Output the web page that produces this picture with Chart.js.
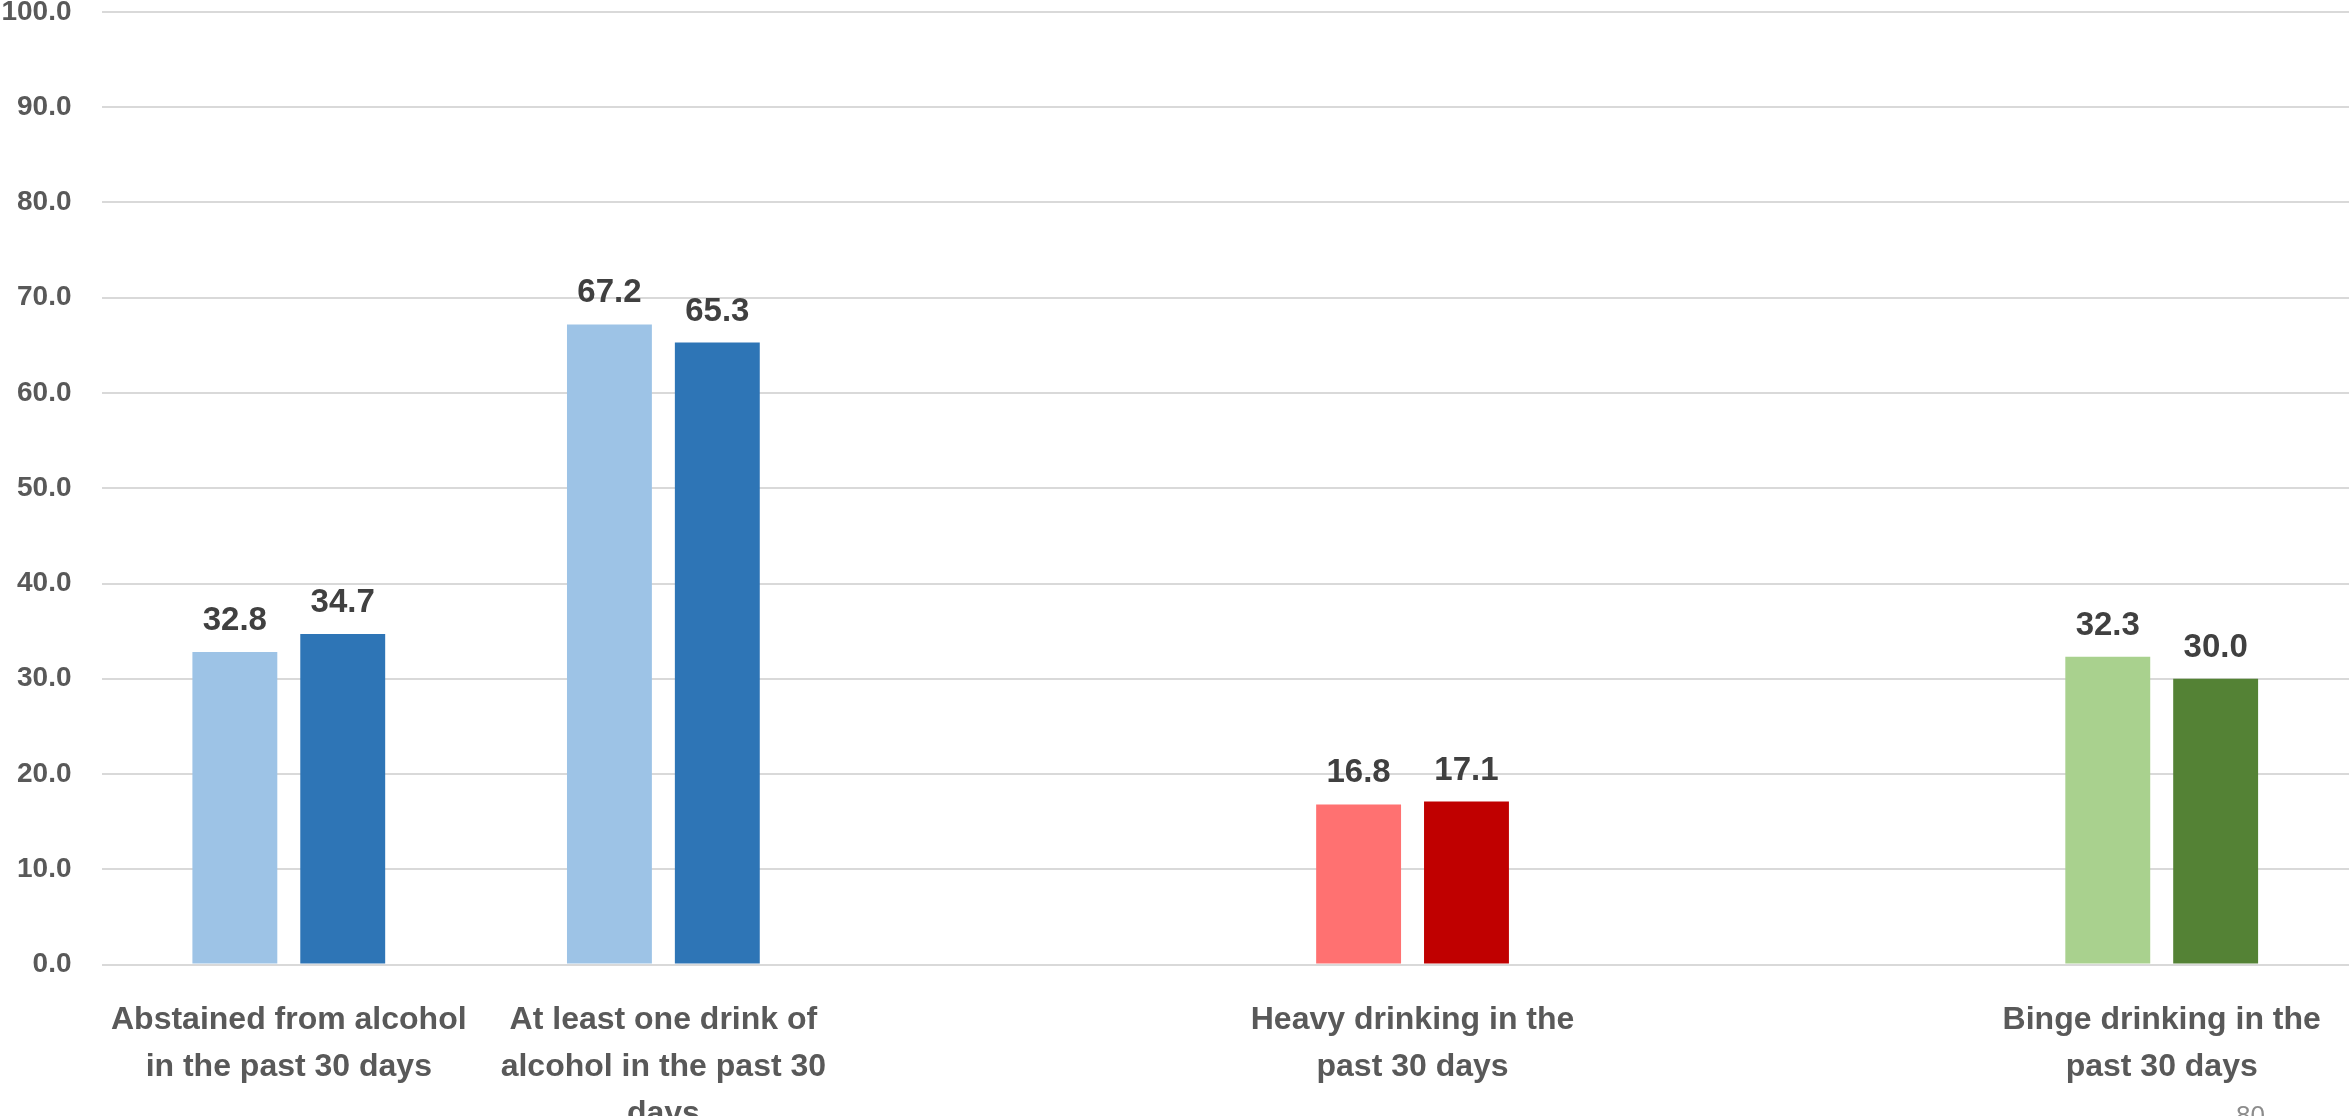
<!DOCTYPE html>
<html>
<head>
<meta charset="utf-8">
<script src="https://cdn.jsdelivr.net/npm/chart.js@4"></script>
<style>
  html, body { margin: 0; padding: 0; background: #fff; overflow: hidden; }
  #wrap { position: relative; width: 2349px; height: 1116px; overflow: hidden; }
  #chart { position: absolute; left: 0; top: -29px; }
  #page-no { position: absolute; left: 2236px; top: 1102px; font: 26px/26px "Liberation Sans", Arial, sans-serif; color: #8c8c8c; }
</style>
</head>
<body>
<div id="wrap">
  <canvas id="chart" width="2349" height="1170"></canvas>
  <div id="page-no">80</div>
</div>
<script>
const categories = [
  ["Abstained from alcohol", "in the past 30 days"],
  ["At least one drink of", "alcohol in the past 30", "days"],
  "",
  ["Heavy drinking in the", "past 30 days"],
  "",
  ["Binge drinking in the", "past 30 days"]
];
const firstValues  = [32.8, 67.2, null, 16.8, null, 32.3];
const secondValues = [34.7, 65.3, null, 17.1, null, 30.0];
const yTicks = [0, 10, 20, 30, 40, 50, 60, 70, 80, 90, 100];

const lightColors = ["#9DC3E6", "#9DC3E6", "#9DC3E6", "#FF7171", "#FF7171", "#A9D18E"];
const darkColors  = ["#2E75B6", "#2E75B6", "#2E75B6", "#C00000", "#C00000", "#548235"];

const FONT = "'Liberation Sans', Arial, sans-serif";

// etiquetas de valor encima de cada barra
const valueLabels = {
  id: "valueLabels",
  afterDatasetsDraw(chart) {
    const c = chart.ctx;
    c.save();
    c.font = "bold 33px " + FONT;
    c.fillStyle = "#404040";
    c.textAlign = "center";
    c.textBaseline = "alphabetic";
    chart.data.datasets.forEach((ds, i) => {
      chart.getDatasetMeta(i).data.forEach((bar, j) => {
        const v = ds.data[j];
        if (v == null) return;
        c.fillText(v.toFixed(1), bar.x, bar.y - 22);
      });
    });
    c.restore();
  }
};

const ctx = document.getElementById("chart");
new Chart(ctx.getContext("2d"), {
  type: "bar",
  data: {
    labels: categories,
    datasets: [
      { data: firstValues, backgroundColor: lightColors, categoryPercentage: 0.576, barPercentage: 0.787 },
      { data: secondValues, backgroundColor: darkColors, categoryPercentage: 0.576, barPercentage: 0.787 }
    ]
  },
  options: {
    responsive: false,
    animation: false,
    layout: { padding: 0 },
    plugins: { legend: { display: false }, tooltip: { enabled: false } },
    scales: {
      x: {
        grid: { display: false },
        border: { display: false },
        ticks: {
          color: "#595959",
          padding: 24,
          maxRotation: 0,
          autoSkip: false,
          font: { family: FONT, size: 32, weight: "bold", lineHeight: 1.47 }
        },
        afterFit: s => { s.height = 1170 - 993.5; }
      },
      y: {
        min: 0,
        max: 100,
        afterBuildTicks: s => { s.ticks = yTicks.map(v => ({ value: v })); },
        grid: { color: "#D9D9D9", lineWidth: 2, drawTicks: false },
        border: { display: false },
        ticks: {
          color: "#595959",
          padding: 30,
          font: { family: FONT, size: 28, weight: "bold", lineHeight: 22 / 28 },
          callback: v => Number(v).toFixed(1)
        },
        afterFit: s => { s.width = 101.5; }
      }
    }
  },
  plugins: [valueLabels]
});
</script>
</body>
</html>
